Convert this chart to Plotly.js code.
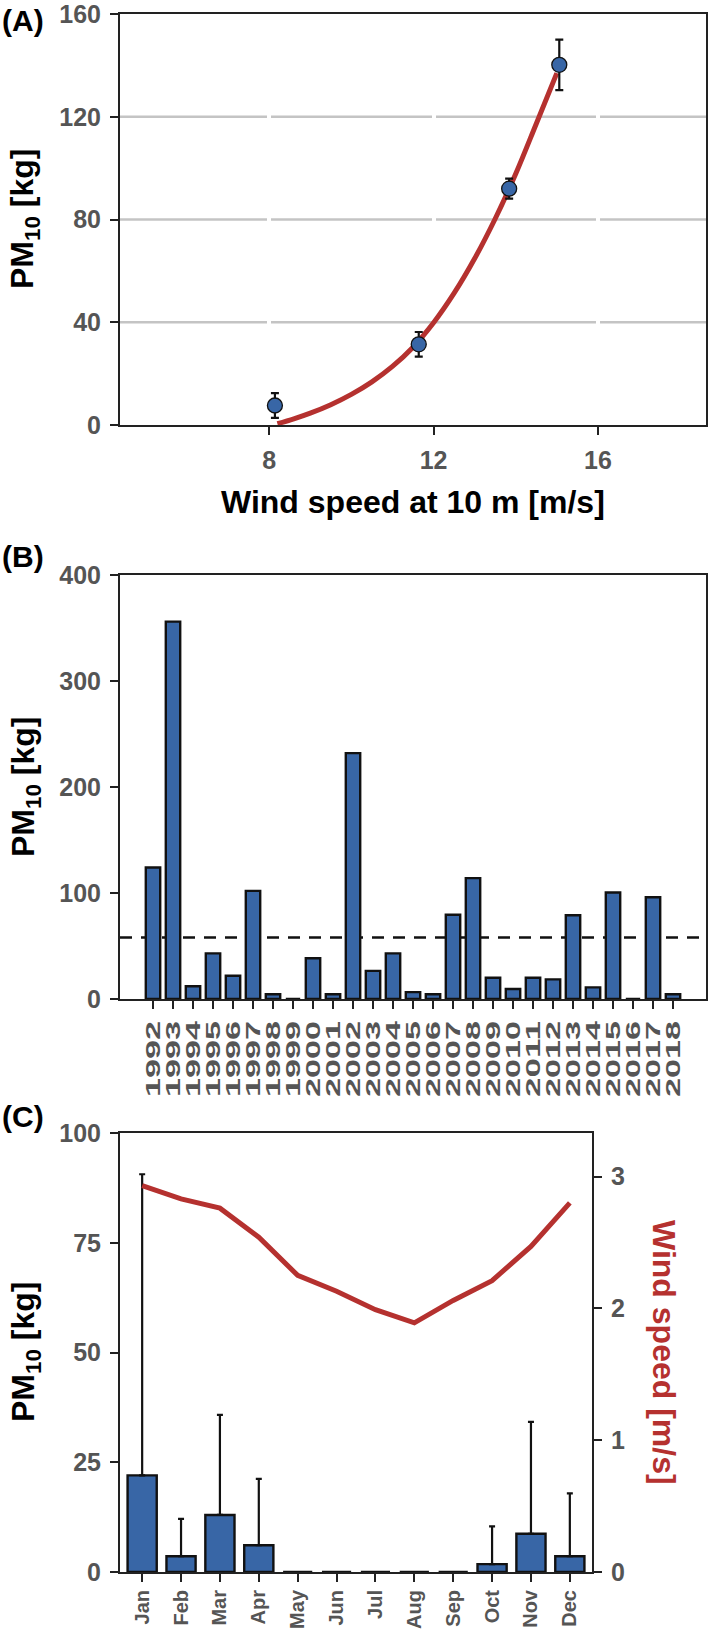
<!DOCTYPE html>
<html lang="en">
<head>
<meta charset="UTF-8">
<title>PM10 emission vs wind speed, yearly and monthly</title>
<script src="https://cdn.plot.ly/plotly-3.0.1.min.js"></script>
<style>
  body { margin: 0; background: #fff; }
  #chart { width: 709px; height: 1634px; }
</style>
</head>
<body>
<div id="chart"></div>
<script>
// (A) PM10 per wind-speed class, with fitted curve
const windClass = [8.14, 11.64, 13.84, 15.06];
const pmByWind = [7.6, 31.4, 92.0, 140.2];
const pmByWindErr = [4.8, 4.8, 3.9, 9.8];
const fitWind = [8.2, 8.6, 9.0, 9.5, 10.0, 10.5, 11.0, 11.5, 12.0, 12.5, 13.0, 13.5, 14.0, 14.5, 15.0];
const fitPM = [0.5, 2.4, 4.6, 7.9, 11.9, 16.8, 22.8, 30.3, 39.8, 51.3, 64.8, 80.3, 97.8, 117.3, 137];
const windTicks = [8, 12, 16];
const pmTicks = [0, 40, 80, 120, 160];

// (B) yearly PM10
const years = ['1992', '1993', '1994', '1995', '1996', '1997', '1998', '1999', '2000', '2001',
  '2002', '2003', '2004', '2005', '2006', '2007', '2008', '2009', '2010', '2011',
  '2012', '2013', '2014', '2015', '2016', '2017', '2018'];
const yearlyPM = [124, 356, 12, 43, 22, 102, 4.5, 0, 38.5, 4.5,
  232, 26.5, 43, 6.5, 4.5, 79.5, 114, 20, 9.5, 20,
  18.5, 79, 11, 100.5, 0, 96, 4.5];
const yearlyMean = 58;

// (C) monthly PM10 and mean wind speed
const months = ['Jan', 'Feb', 'Mar', 'Apr', 'May', 'Jun', 'Jul', 'Aug', 'Sep', 'Oct', 'Nov', 'Dec'];
const monthlyPM = [22.0, 3.6, 13.0, 6.1, 0, 0, 0, 0, 0, 1.8, 8.7, 3.6];
const monthlyPMErr = [68.6, 8.5, 22.8, 15.1, null, null, null, null, null, 8.6, 25.5, 14.3];
const monthlyWind = [2.93, 2.83, 2.76, 2.54, 2.25, 2.13, 1.99, 1.89, 2.06, 2.21, 2.47, 2.80];

const FONT = 'Liberation Sans, Arial, Helvetica, sans-serif';
const BLUE = '#3866a6';
const RED = '#b5312f';
const W = 709, H = 1634;

// pixel -> paper helpers
const px = v => v / W;
const py = v => 1 - v / H;

function axis(extra) {
  return Object.assign({
    showline: true, linecolor: '#222', linewidth: 2, mirror: true,
    ticks: 'outside', ticklen: 8, tickwidth: 2, tickcolor: '#222',
    ticklabelstandoff: 4, ticklabeloverflow: 'allow',
    tickfont: {family: FONT, size: 25, color: '#555', weight: 'bold'},
    showgrid: false, zeroline: false, automargin: false, fixedrange: true
  }, extra);
}

const data = [
  {
    x: fitWind, y: fitPM, xaxis: 'x', yaxis: 'y',
    type: 'scatter', mode: 'lines',
    line: {color: RED, width: 5, shape: 'spline'},
    hoverinfo: 'skip'
  },
  {
    x: windClass, y: pmByWind, xaxis: 'x', yaxis: 'y',
    type: 'scatter', mode: 'markers',
    marker: {color: BLUE, size: 15, line: {color: '#111', width: 1.3}},
    error_y: {type: 'data', array: pmByWindErr, color: '#111', thickness: 2.2, width: 4}
  },
  {
    x: years, y: yearlyPM, xaxis: 'x2', yaxis: 'y2',
    type: 'bar', width: 0.72,
    marker: {color: BLUE, line: {color: '#111', width: 2.4}}
  },
  {
    x: months, y: monthlyPM, xaxis: 'x3', yaxis: 'y3',
    type: 'bar', width: 0.75,
    marker: {color: BLUE, line: {color: '#111', width: 2.4}},
    error_y: {type: 'data', symmetric: false, array: monthlyPMErr,
      arrayminus: monthlyPMErr.map(() => 0), color: '#111', thickness: 2.2, width: 3}
  },
  {
    x: months, y: monthlyWind, xaxis: 'x3', yaxis: 'y4',
    type: 'scatter', mode: 'lines',
    line: {color: RED, width: 5}
  }
];

const titleFont = {family: FONT, size: 32, color: '#000', weight: 'bold'};
const panelFont = {family: FONT, size: 30, color: '#000', weight: 'bold'};

const annotations = [
  {text: '(A)', x: 0, y: py(20)},
  {text: '(B)', x: 0, y: py(556)},
  {text: '(C)', x: 0, y: py(1116)},
].map(a => Object.assign(a, {xref: 'paper', yref: 'paper', xanchor: 'left', yanchor: 'middle',
  showarrow: false, font: panelFont}));

[
  {text: 'Wind speed at 10 m [m/s]', x: px(413), y: py(502), textangle: 0},
  {text: 'PM<sub>10</sub> [kg]', x: px(25), y: py(219), textangle: -90},
  {text: 'PM<sub>10</sub> [kg]', x: px(25), y: py(787), textangle: -90},
  {text: 'PM<sub>10</sub> [kg]', x: px(25), y: py(1352), textangle: -90},
  {text: 'Wind speed [m/s]', x: px(664), y: py(1352), textangle: 90, color: RED}
].forEach(t => annotations.push({
  text: t.text, x: t.x, y: t.y, xref: 'paper', yref: 'paper',
  xanchor: 'center', yanchor: 'middle', textangle: t.textangle, showarrow: false,
  font: Object.assign({}, titleFont, {color: t.color || '#000'})
}));

// grey horizontal grid under the white vertical grid of panel A
const shapes = pmTicks.slice(1, -1).map(v => ({
  type: 'line', layer: 'below', xref: 'x domain', yref: 'y',
  x0: 0, x1: 1, y0: v, y1: v, line: {color: '#c4c4c4', width: 2.5}
}));
shapes.push({
  type: 'line', layer: 'below', xref: 'x2 domain', yref: 'y2',
  x0: 0, x1: 1, y0: yearlyMean, y1: yearlyMean,
  line: {color: '#111', width: 2.6, dash: '12px,9px'}
});

const layout = {
  width: W, height: H,
  margin: {l: 0, r: 0, t: 0, b: 0},
  paper_bgcolor: '#fff', plot_bgcolor: '#fff',
  showlegend: false,
  font: {family: FONT},
  xaxis: axis({domain: [px(120), px(706)], anchor: 'y', range: [4.37, 18.63],
    tickvals: windTicks, showgrid: true, gridcolor: '#fff', gridwidth: 4}),
  yaxis: axis({domain: [py(425), py(14)], anchor: 'x', range: [0, 160], tickvals: pmTicks}),
  xaxis2: axis({domain: [px(120), px(706)], anchor: 'y2', type: 'category',
    range: [-1.65, 27.65], tickangle: -90, tickmode: 'array', tickvals: years,
    tickfont: {family: FONT, size: 20, color: '#555', weight: 'bold'}}),
  yaxis2: axis({domain: [py(999), py(575)], anchor: 'x2', range: [0, 400],
    tickvals: [0, 100, 200, 300, 400]}),
  xaxis3: axis({domain: [px(120), px(592)], anchor: 'y3', type: 'category',
    range: [-0.57, 11.57], tickangle: -90, tickmode: 'array', tickvals: months,
    ticklabelstandoff: 0,
    tickfont: {family: FONT, size: 20, color: '#555', weight: 'bold'}}),
  yaxis3: axis({domain: [py(1572), py(1133)], anchor: 'x3', range: [0, 100],
    tickvals: [0, 25, 50, 75, 100], mirror: false}),
  yaxis4: axis({overlaying: 'y3', side: 'right', anchor: 'x3', range: [0, 3.33],
    tickvals: [0, 1, 2, 3], mirror: false}),
  annotations: annotations,
  shapes: shapes
};

Plotly.newPlot('chart', data, layout, {displayModeBar: false, staticPlot: true}).then(() => {
  // the year labels in the reference are drawn stretched along their length
  document.querySelectorAll('g.x2tick text').forEach(t => {
    t.setAttribute('textLength', 76);
    t.setAttribute('lengthAdjust', 'spacingAndGlyphs');
  });
});
</script>
</body>
</html>
